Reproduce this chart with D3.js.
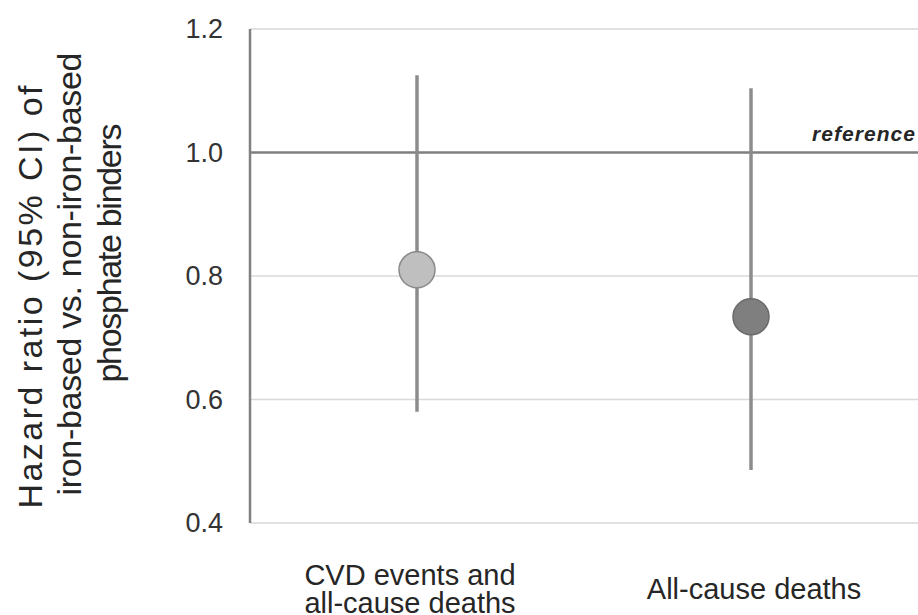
<!DOCTYPE html>
<html>
<head>
<meta charset="utf-8">
<script src="https://cdn.jsdelivr.net/npm/d3@7"></script>
<style>
  html, body { margin: 0; padding: 0; background: #fff; }
  svg { display: block; }
  text { font-family: "Liberation Sans", Arial, sans-serif; }
</style>
</head>
<body>
<svg id="chart" width="918" height="615"></svg>
<script>
// ---- data ----
const categories = ["CVD events and all-cause deaths", "All-cause deaths"];
const categoryLabelLines = [["CVD events and", "all-cause deaths"], ["All-cause deaths"]];
const hazardRatio = [0.81, 0.734];
const ciLower = [0.58, 0.486];
const ciUpper = [1.125, 1.104];
const pointFill = ["#bfbfbf", "#7f7f7f"];
const pointStroke = ["#8a8a8a", "#6a6a6a"];
const yTicks = [0.4, 0.6, 0.8, 1.0, 1.2];
const referenceValue = 1.0;
const referenceLabel = "reference";
const yTitleLines = ["Hazard ratio (95% CI) of", "iron-based vs. non-iron-based", "phosphate binders"];

// ---- layout ----
const svg = d3.select("#chart");
const plotLeft = 250, plotRight = 918, plotTop = 29, plotBottom = 523;

const x = d3.scaleBand().domain(categories).range([plotLeft, plotRight]).padding(0);
const y = d3.scaleLinear().domain([0.4, 1.2]).range([plotBottom, plotTop]);
const cx = c => x(c) + x.bandwidth() / 2;

// gridlines
svg.append("g").selectAll("line")
  .data(yTicks.filter(t => t !== referenceValue))
  .join("line")
  .attr("x1", plotLeft).attr("x2", plotRight)
  .attr("y1", d => y(d)).attr("y2", d => y(d))
  .attr("stroke", "#d9d9d9").attr("stroke-width", 1.5);

// y axis labels
const yAxis = d3.axisLeft(y).tickValues(yTicks).tickFormat(d3.format(".1f"))
  .tickSize(0).tickPadding(27);
const ya = svg.append("g").attr("transform", `translate(${plotLeft},0)`).call(yAxis);
ya.select(".domain").remove();
ya.selectAll("text").attr("font-size", 27).attr("fill", "#333")
  .attr("font-family", "Liberation Sans, Arial, sans-serif");

// vertical axis line
svg.append("line")
  .attr("x1", plotLeft).attr("x2", plotLeft)
  .attr("y1", y(1.2)).attr("y2", y(0.4))
  .attr("stroke", "#808080").attr("stroke-width", 2.5);

// reference line
svg.append("line")
  .attr("x1", plotLeft).attr("x2", plotRight)
  .attr("y1", y(referenceValue)).attr("y2", y(referenceValue))
  .attr("stroke", "#7f7f7f").attr("stroke-width", 2.5);

svg.append("text")
  .attr("x", 915).attr("y", y(referenceValue) - 12)
  .attr("text-anchor", "end")
  .attr("font-size", 21).attr("font-weight", "bold").attr("font-style", "italic")
  .attr("textLength", 103)
  .attr("fill", "#262626")
  .text(referenceLabel);

// error bars
svg.append("g").selectAll("line")
  .data(categories)
  .join("line")
  .attr("x1", d => cx(d)).attr("x2", d => cx(d))
  .attr("y1", (d, i) => y(ciUpper[i])).attr("y2", (d, i) => y(ciLower[i]))
  .attr("stroke", "#8c8c8c").attr("stroke-width", 3.5);

// points
svg.append("g").selectAll("circle")
  .data(categories)
  .join("circle")
  .attr("cx", d => cx(d)).attr("cy", (d, i) => y(hazardRatio[i]))
  .attr("r", 18)
  .attr("fill", (d, i) => pointFill[i])
  .attr("stroke", (d, i) => pointStroke[i]).attr("stroke-width", 1.5);

// category labels
const lh = 28;
categories.forEach((c, i) => {
  const lines = categoryLabelLines[i];
  const n = lines.length;
  const t = svg.append("text")
    .attr("text-anchor", "middle")
    .attr("font-size", 29).attr("fill", "#262626");
  lines.forEach((ln, j) => {
    t.append("tspan")
      .attr("x", cx(c) + (n > 1 ? -7 : 3))
      .attr("y", 599 + (j - (n - 1) / 2) * lh)
      .text(ln);
  });
});

// y title
const titleBaselines = [42, 81, 121];
const titleCenters = [297, 274, 253];
const titleLengths = [423, 443, 259];
yTitleLines.forEach((ln, i) => {
  svg.append("text")
    .attr("transform", `translate(${titleBaselines[i]},${titleCenters[i]}) rotate(-90)`)
    .attr("text-anchor", "middle")
    .attr("font-size", 34)
    .attr("textLength", titleLengths[i])
    .attr("fill", "#262626")
    .text(ln);
});
</script>
</body>
</html>
